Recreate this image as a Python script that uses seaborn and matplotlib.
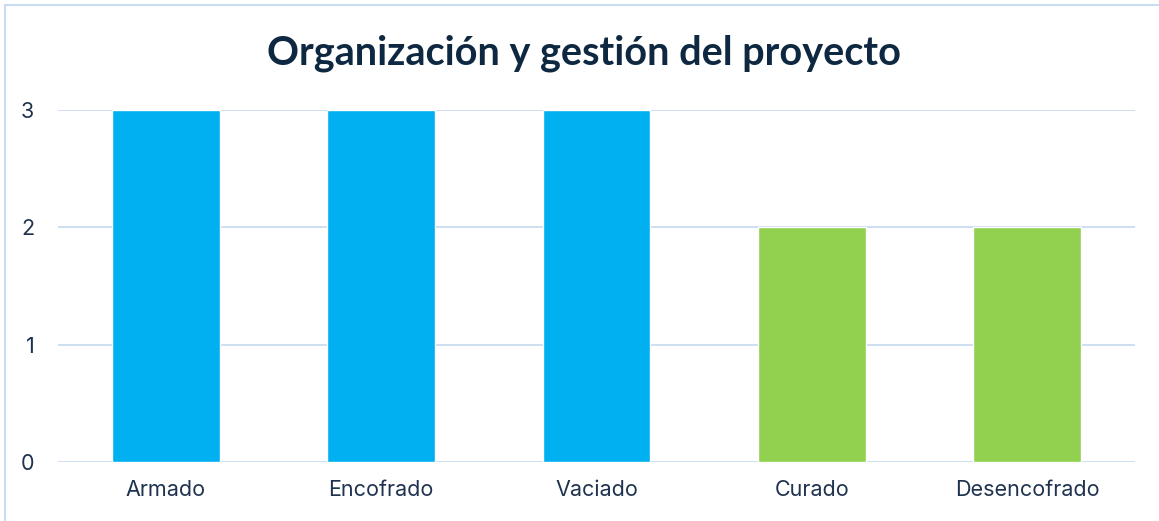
import matplotlib
matplotlib.use("Agg")
import matplotlib.pyplot as plt
import seaborn as sns
import pandas as pd
from matplotlib.patches import Rectangle

categories = ["Armado", "Encofrado", "Vaciado", "Curado", "Desencofrado"]
values = [3, 3, 3, 2, 2]
colors = ["#00B0F0", "#00B0F0", "#00B0F0", "#92D050", "#92D050"]
title = "Organización y gestión del proyecto"

sns.set_theme(style="white")
plt.rcParams['font.family'] = ['Inter', 'DejaVu Sans']

df = pd.DataFrame({"cat": categories, "val": values})

fig = plt.figure(figsize=(11.59, 5.21), dpi=100)
ax = fig.add_axes([58/1159, 1-462/521, (1135-58)/1159, (462-110)/521])
sns.barplot(data=df, x="cat", y="val", hue="cat", palette=colors, legend=False,
            width=0.5, ax=ax, saturation=1)
ax.set_ylim(0, 3)
ax.set_xlim(-0.5, 4.5)
ax.set_yticks([0, 1, 2, 3])
ax.yaxis.grid(True, color="#C9DCF0", linewidth=1.3)
ax.set_axisbelow(True)
for s in ax.spines.values():
    s.set_visible(False)
ax.set_xlabel("")
ax.set_ylabel("")
ax.tick_params(axis="x", labelsize=15.5, colors="#1F3350", pad=13, length=0)
ax.tick_params(axis="y", labelsize=15.5, colors="#1F3350", pad=17, length=0)
fig.text(584/1159, 1-53/521, title, ha="center", va="center", fontsize=28.5,
         fontweight="bold", color="#0E2841", family=["Lato", "DejaVu Sans"])
fig.patches.append(Rectangle((5/1159, -0.02), 1.1, 1-5/521+0.02, transform=fig.transFigure,
                             fill=False, edgecolor="#C9DCF0", linewidth=1.5))
fig.savefig("out.png", dpi=100)
